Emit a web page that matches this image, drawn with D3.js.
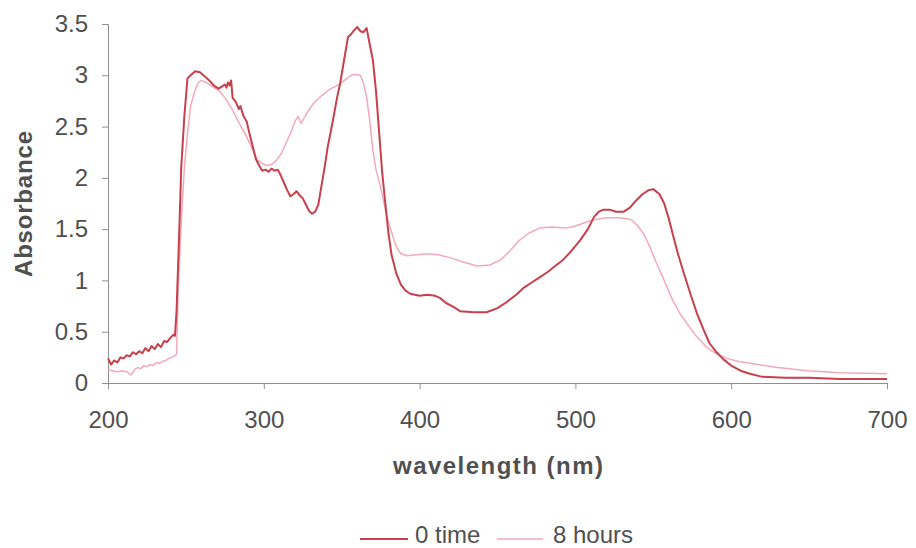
<!DOCTYPE html>
<html><head><meta charset="utf-8">
<script src="https://cdn.jsdelivr.net/npm/d3@7"></script>
<style>body{margin:0;background:#fff}svg{display:block}text{font-family:"Liberation Sans",Arial,sans-serif}</style>
</head><body>
<svg id="c" width="916" height="548"></svg>
<script>
const seriesNames = ["0 time", "8 hours"];
const xTicks = [200, 300, 400, 500, 600, 700];
const yTicks = [0, 0.5, 1, 1.5, 2, 2.5, 3, 3.5];
const yTickLabels = ["0", "0.5", "1", "1.5", "2", "2.5", "3", "3.5"];

const wl0 = [200,202,204,206,208,210,212,214,216,218,220,222,224,226,228,230,232,234,236,238,240,242,243,244,246,247,249,251,253,256,259,262,265,268,271,273,275,276,277,278,279,280,282,284,285,287,289,291,293,295,297,299,301,303,305,307,309,311,313,315,317,319,321,323,325,327,329,331,333,335,337,339,341,344,347,349,351,354,356,358,360,362,364,366,368,370,372,374,376,378,380,382,385,388,391,394,397,400,405,410,413,417,422,426,435,443,450,456,462,467,472,477,482,487,492,497,503,508,512,515,518,522,526,531,535,539,543,547,550,554,557,560,563,566,570,574,578,582,586,590,595,600,606,612,620,635,650,670,700];
const abs0 = [0.24,0.18,0.22,0.20,0.25,0.24,0.27,0.26,0.30,0.28,0.31,0.29,0.34,0.31,0.36,0.33,0.38,0.35,0.41,0.40,0.44,0.47,0.46,0.70,1.60,2.10,2.60,2.97,3.00,3.04,3.03,2.99,2.95,2.90,2.87,2.89,2.91,2.88,2.93,2.90,2.95,2.78,2.74,2.67,2.70,2.60,2.55,2.42,2.30,2.18,2.12,2.07,2.08,2.06,2.09,2.07,2.08,2.02,1.95,1.88,1.82,1.84,1.87,1.83,1.80,1.74,1.68,1.65,1.67,1.74,1.92,2.10,2.30,2.53,2.78,2.92,3.10,3.37,3.40,3.44,3.47,3.43,3.42,3.46,3.30,3.15,2.85,2.45,2.05,1.75,1.46,1.25,1.07,0.96,0.90,0.87,0.86,0.85,0.86,0.85,0.83,0.78,0.74,0.70,0.69,0.69,0.73,0.79,0.86,0.93,0.98,1.03,1.08,1.14,1.20,1.28,1.39,1.50,1.62,1.67,1.69,1.69,1.67,1.67,1.71,1.78,1.84,1.88,1.89,1.84,1.75,1.60,1.42,1.25,1.05,0.86,0.68,0.53,0.39,0.31,0.23,0.17,0.12,0.09,0.06,0.05,0.05,0.04,0.04];

const wl8 = [200,203,206,209,212,214,215,217,219,221,223,225,227,229,231,233,235,237,239,241,243,244,245,247,249,251,253,256,258,260,263,266,269,272,276,280,284,289,293,296,299,302,305,308,311,314,317,320,322,324,328,332,337,342,347,351,355,358,362,364,366,368,370,372,375,379,382,385,388,392,398,405,412,420,428,437,445,452,458,464,470,477,485,494,500,509,515,520,528,534,537,540,544,548,552,557,562,567,573,578,584,590,597,605,617,630,649,670,700];
const abs8 = [0.13,0.12,0.11,0.12,0.11,0.09,0.08,0.13,0.15,0.14,0.17,0.16,0.18,0.17,0.20,0.19,0.21,0.22,0.24,0.25,0.27,0.28,0.90,1.55,2.10,2.43,2.70,2.86,2.93,2.95,2.93,2.90,2.87,2.84,2.76,2.66,2.54,2.40,2.27,2.17,2.14,2.12,2.13,2.17,2.23,2.33,2.43,2.55,2.60,2.53,2.64,2.73,2.80,2.86,2.90,2.94,2.99,3.01,3.00,2.92,2.79,2.55,2.27,2.08,1.91,1.62,1.47,1.33,1.26,1.24,1.25,1.26,1.25,1.22,1.18,1.14,1.15,1.20,1.29,1.39,1.46,1.51,1.52,1.51,1.53,1.58,1.60,1.61,1.61,1.60,1.58,1.53,1.45,1.32,1.17,1.00,0.82,0.68,0.55,0.45,0.35,0.29,0.24,0.21,0.18,0.15,0.12,0.10,0.09];

const colors = ["#c8404b", "#f3a9ba"];
const widths = [2, 1.5];

const svg = d3.select("#c");
const L = 108, R = 887, T = 24, B = 383;
const x = d3.scaleLinear().domain([200, 700]).range([L, R]);
const y = d3.scaleLinear().domain([0, 3.5]).range([B, T]);

const axisColor = "#8f8f8f";
const textColor = "#505050";

const gx = svg.append("g").attr("transform", `translate(0,${B})`)
  .call(d3.axisBottom(x).tickValues(xTicks).tickSize(6).tickPadding(22).tickFormat(d3.format("d")));
const gy = svg.append("g").attr("transform", `translate(${L},0)`)
  .call(d3.axisLeft(y).tickValues(yTicks).tickSize(6).tickPadding(14).tickFormat((d, i) => yTickLabels[i]));
[gx, gy].forEach(g => {
  g.selectAll("path.domain").attr("stroke", axisColor).attr("stroke-width", 1);
  g.selectAll(".tick line").attr("stroke", axisColor);
  g.selectAll(".tick text").attr("fill", textColor).style("font-size", "24px").attr("font-family", "Liberation Sans, Arial, sans-serif");
});
gx.select("path.domain").attr("d", `M${L},0.5H${R}`);

const line = d3.line().x(d => x(d[0])).y(d => y(d[1]));
const data = [d3.zip(wl0, abs0), d3.zip(wl8, abs8)];
[1, 0].forEach(i => {
  svg.append("path").datum(data[i]).attr("d", line)
    .attr("fill", "none").attr("stroke", colors[i]).attr("stroke-width", widths[i])
    .attr("stroke-linejoin", "round");
});

svg.append("text").attr("transform", "translate(32,204) rotate(-90)")
  .attr("text-anchor", "middle").attr("font-weight", "bold").attr("fill", textColor)
  .attr("textLength", 146).attr("lengthAdjust", "spacing")
  .style("font-size", "24px").text("Absorbance");
svg.append("text").attr("x", 498).attr("y", 474)
  .attr("text-anchor", "middle").attr("font-weight", "bold").attr("fill", textColor)
  .attr("textLength", 210).attr("lengthAdjust", "spacing")
  .style("font-size", "24px").text("wavelength (nm)");

const legendItems = [{x1: 360, x2: 408, tx: 415}, {x1: 497, x2: 543, tx: 553}];
legendItems.forEach((it, i) => {
  svg.append("line").attr("x1", it.x1).attr("x2", it.x2).attr("y1", 539).attr("y2", 539)
    .attr("stroke", colors[i]).attr("stroke-width", widths[i]);
  svg.append("text").attr("x", it.tx).attr("y", 543).attr("fill", textColor)
    .style("font-size", "24px").text(seriesNames[i]);
});
</script>
</body></html>
